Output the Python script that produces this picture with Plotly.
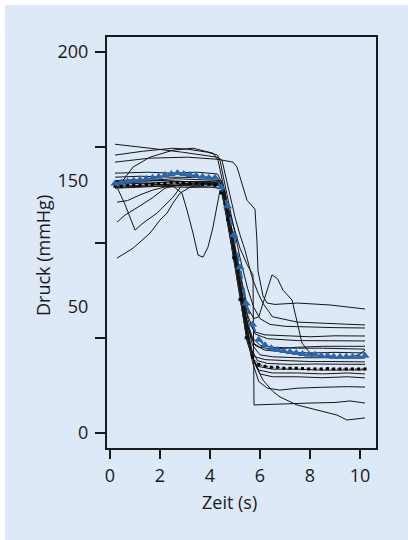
import plotly.graph_objects as go

# ---- data (time in s, pressure in axis units of the chart) ----
t01 = [0.2, 1.0, 1.6, 2.9, 3.6, 4.28, 4.48, 4.75, 5.0, 5.2, 5.4, 5.68, 5.92, 6.12, 6.5, 7.5, 8.5, 9.5, 10.2]
p01 = [151.6, 150.6, 149.5, 147.4, 145.9, 144.8, 143.2, 128, 113.3, 104, 96, 81.8, 73.5, 68, 61, 58.2, 57.5, 57, 56.7]

t02 = [0.2, 1.3, 2.5, 3.1, 3.9, 4.3, 4.4, 4.6, 4.9, 5.2, 5.5, 5.75, 6.0, 6.4, 7.0, 8.0, 9.0, 10.2]
p02 = [145.9, 147.9, 149.5, 149, 147.4, 145.9, 143, 130, 110, 92, 76, 66, 60, 57, 56, 55.5, 55.3, 55.1]

t03 = [0.2, 1.6, 3.1, 4.3, 4.92, 5.08, 5.48, 5.8, 5.88, 5.92, 6.12, 6.28, 6.6, 7.5, 8.8, 9.6, 10.2]
p03 = [142.2, 144.3, 144.8, 143.7, 142.2, 139.6, 122.2, 117.5, 100, 85, 72, 68.2, 67.5, 68.2, 67.2, 66, 65.1]

t04 = [0.2, 1.5, 2.5, 3.5, 4.3, 4.45, 4.7, 5.0, 5.3, 5.55, 5.8, 6.2, 7.0, 8.0, 9.0, 10.2]
p04 = [136.4, 136.9, 136.4, 136.9, 136, 132, 114, 92, 72, 58, 53, 51.5, 51, 50.5, 51, 50.9]

t05 = [0.32, 0.92, 1.6, 2.52, 3.32, 4.12, 4.32, 4.6, 4.9, 5.2, 5.5, 5.8, 6.3, 7.5, 8.5, 10.2]
p05 = [129.1, 139.6, 144.8, 148.5, 149.5, 146.9, 143.2, 126, 104, 82, 62, 52, 49.5, 48.5, 48.3, 48.3]

t06 = [0.28, 0.6, 1.0, 1.32, 1.88, 2.52, 2.88, 3.5, 4.3, 4.45, 4.7, 5.0, 5.3, 5.55, 5.8, 6.2, 7.0, 8.0, 9.0, 10.2]
p06 = [129.1, 120, 106.5, 110.2, 115.4, 123.8, 130.1, 131, 131.5, 128, 110, 88, 64, 46, 40, 38.5, 38, 37.5, 37.5, 37.3]

t07 = [0.28, 0.92, 1.6, 2.0, 2.28, 2.52, 2.8, 3.2, 3.8, 4.35, 4.5, 4.8, 5.1, 5.4, 5.65, 5.9, 6.5, 7.5, 8.5, 9.5, 10.2]
p07 = [91.8, 97, 104.9, 111.8, 115.4, 120.7, 125.9, 129, 130.5, 131, 127, 104, 80, 56, 40, 35, 33.5, 33.5, 33, 33.2, 33.1]

t08 = [0.28, 0.6, 1.12, 1.68, 2.2, 3.0, 3.8, 4.4, 4.55, 4.85, 5.15, 5.45, 5.7, 6.0, 6.5, 7.5, 8.5, 9.5, 10.2]
p08 = [110.7, 114.4, 118.6, 123.3, 128.5, 131, 131.5, 132, 127, 105, 82, 60, 46, 41, 40, 39.5, 39.5, 39.2, 39.3]

t09 = [0.28, 0.7, 1.2, 1.7, 2.3, 3.0, 3.7, 4.4, 4.55, 4.85, 5.15, 5.45, 5.7, 5.95, 6.5, 7.5, 8.5, 9.5, 10.2]
p09 = [121.2, 122, 125, 127.5, 129.5, 130.5, 131, 130.5, 126, 104, 80, 55, 40, 33, 31.5, 31.5, 31, 31.5, 31]

t10 = [0.2, 0.8, 1.6, 2.48, 2.88, 3.08, 3.32, 3.52, 3.72, 3.92, 4.12, 4.28, 4.4, 4.55, 4.85, 5.15, 5.45, 5.7, 6.0, 6.5, 7.5, 8.5, 9.5, 10.2]
p10 = [130.5, 131.5, 131, 130, 125.9, 117, 104.9, 93.4, 92.3, 97.6, 108.1, 118.6, 127.5, 124, 102, 80, 60, 50, 46, 45, 44.5, 44.5, 44, 44]

t11 = [0.2, 1.0, 2.0, 3.0, 4.0, 4.45, 4.6, 4.9, 5.2, 5.5, 5.75, 5.95, 6.2, 6.48, 6.7, 6.92, 7.28, 7.52, 7.68, 8.0, 8.4, 9.0, 9.6, 9.95, 10.2]
p11 = [132.5, 133, 132.5, 132, 132, 131, 126, 105, 84, 66, 60, 61, 72, 83, 81, 75, 69.8, 55.6, 47.2, 42, 39.9, 39.5, 39.8, 41, 43.5]

t12 = [0.2, 1.3, 2.5, 3.7, 4.4, 4.6, 4.9, 5.2, 5.5, 5.72, 5.76, 6.3, 7.0, 8.0, 9.0, 9.6, 10.2]
p12 = [129, 129.5, 130, 129.5, 130, 124, 110, 97, 88, 83, 14.7, 15, 15.3, 15.7, 16, 16.8, 15.7]

t13 = [0.2, 1.2, 2.4, 3.6, 4.3, 4.45, 4.7, 5.0, 5.3, 5.55, 5.8, 6.2, 7.0, 8.0, 9.0, 10.2]
p13 = [134.3, 134.8, 134.3, 134.3, 134, 130, 113, 91, 70, 54, 46, 43.5, 42.5, 42, 42.3, 42]

t14 = [0.2, 1.0, 2.0, 3.0, 3.8, 4.4, 4.55, 4.8, 5.1, 5.4, 5.65, 5.9, 6.3, 7.2, 8.2, 9.2, 10.2]
p14 = [130.5, 131, 131.5, 131, 130.5, 130.5, 126, 108, 84, 60, 44, 38, 36.5, 36, 36.2, 36, 36]

t15 = [0.2, 1.1, 2.1, 3.1, 4.0, 4.42, 4.57, 4.85, 5.15, 5.45, 5.7, 5.95, 6.3, 6.8, 7.5, 8.5, 9.5, 10.2]
p15 = [129.5, 130, 130.5, 130, 130.5, 130, 125, 103, 79, 55, 37, 27, 23.5, 22.5, 23.5, 24, 24.3, 24.1]

t16 = [0.2, 1.0, 2.0, 3.0, 4.0, 4.45, 4.6, 4.9, 5.2, 5.48, 5.8, 6.12, 6.5, 6.8, 7.48, 8.28, 9.08, 9.48, 10.2]
p16 = [131.5, 132, 132.5, 132, 131.5, 131, 125, 100, 72, 48, 36, 27.8, 22, 18.9, 14.7, 12.1, 9.4, 6.8, 7.9]

t17 = [0.2, 1.4, 2.6, 3.8, 4.45, 4.6, 4.9, 5.2, 5.5, 5.75, 6.0, 6.5, 7.5, 8.5, 9.5, 10.2]
p17 = [132, 132.5, 133.5, 133, 132.5, 127, 105, 80, 55, 38, 31, 29.5, 29.5, 29, 29.5, 28.9]

t18 = [0.2, 1.0, 2.0, 3.0, 4.0, 4.45, 4.6, 4.9, 5.2, 5.5, 5.75, 6.0, 6.5, 7.5, 8.5, 9.5, 10.2]
p18 = [128.5, 129, 129.5, 129, 129, 128.5, 123, 100, 76, 56, 47, 45, 44, 45, 45.5, 45.5, 45.5]

mean_t = [0.2, 0.45, 0.7, 0.95, 1.2, 1.45, 1.7, 1.95, 2.2, 2.45, 2.7, 2.95, 3.2, 3.45, 3.7, 3.95, 4.2,
          4.45, 4.7, 4.95, 5.2, 5.45, 5.7, 5.95, 6.2, 6.45, 6.7, 6.95, 7.2, 7.45, 7.7, 7.95, 8.2,
          8.45, 8.7, 8.95, 9.2, 9.45, 9.7, 9.95, 10.2]
mean_blue = [131, 131.5, 132, 132.5, 133, 133.5, 134, 134.5, 135.5, 136, 136.5, 136, 135.5, 135, 134.5, 134, 134,
             129, 119, 104, 87, 68, 57, 49, 46, 44.5, 43.5, 43, 42.5, 42, 41.5, 41, 41,
             40.5, 40.5, 40, 40, 40, 40, 40, 40.5]
mean_black = [129.5, 129.5, 130, 130, 130, 130.5, 130.5, 131, 131, 131.5, 131.5, 131.5, 131, 131, 130.5, 130.5, 130,
              126, 112, 92, 70, 50, 40, 36, 35, 34.5, 34.5, 34, 34, 34, 33.8, 33.6, 33.6,
              33.6, 33.8, 33.6, 33.6, 33.6, 33.6, 33.6, 33.6]

x_ticks = [0, 2, 4, 6, 8, 10]
y_tick_marks = [0, 50, 100, 150, 200]
y_label_pos = [0, 66.1, 132.7, 200]
y_label_text = ["0", "50", "150", "200"]

subjects = [(t01, p01), (t02, p02), (t03, p03), (t04, p04), (t05, p05), (t06, p06),
            (t07, p07), (t08, p08), (t09, p09), (t10, p10), (t11, p11), (t12, p12),
            (t13, p13), (t14, p14), (t15, p15), (t16, p16), (t17, p17), (t18, p18)]

BG = "#dde9f6"
FONT = "Open Sans"
INK = "#1a1a1a"

fig = go.Figure()
for t, p in subjects:
    fig.add_trace(go.Scatter(x=t, y=p, mode="lines",
                             line=dict(color="#151515", width=1), hoverinfo="skip"))

fig.add_trace(go.Scatter(x=mean_t, y=mean_black, mode="lines+markers",
                         line=dict(color="#333333", width=1, dash="dot"),
                         marker=dict(symbol="square", size=3, color="black")))
fig.add_trace(go.Scatter(x=mean_t, y=mean_blue, mode="lines+markers",
                         line=dict(color="#2a67b3", width=2, dash="dash"),
                         marker=dict(symbol="triangle-up", size=8, color="#2a67b3")))
# invisible trace to activate label axis
fig.add_trace(go.Scatter(x=[None], y=[None], yaxis="y2", showlegend=False))

axis_common = dict(showgrid=False, zeroline=False, showline=True, mirror=True,
                   linecolor=INK, linewidth=1.5, ticks="outside", tickcolor=INK,
                   tickwidth=1.5, tickfont=dict(family=FONT, size=18, color=INK))

W, H = 408, 540
ML, MR, MT, MB = 107, 32, 37, 92
PW, PH = W - ML - MR, H - MT - MB


def px_x(v):
    return (v - ML) / PW


def px_y(v):
    return (H - MB - v) / PH


fig.update_layout(
    width=W, height=H,
    margin=dict(l=ML, r=MR, t=MT, b=MB),
    paper_bgcolor=BG, plot_bgcolor=BG,
    showlegend=False,
    xaxis=dict(range=[-0.12, 10.64], tickvals=x_ticks, ticklen=9,
               ticklabelstandoff=2, **axis_common),
    yaxis=dict(range=[-7.9, 207.9], tickvals=y_tick_marks, ticklen=10,
               showticklabels=False, **axis_common),
    yaxis2=dict(range=[-7.9, 207.9], overlaying="y", side="left",
                tickvals=y_label_pos, ticktext=y_label_text,
                showgrid=False, zeroline=False, showline=False,
                ticks="outside", ticklen=10, tickcolor="rgba(0,0,0,0)",
                ticklabelstandoff=4,
                tickfont=dict(family=FONT, size=18, color=INK)),
    shapes=[
        dict(type="rect", xref="paper", yref="paper", layer="below",
             x0=px_x(0), x1=px_x(W), y0=px_y(5), y1=px_y(0),
             fillcolor="white", line=dict(width=0)),
        dict(type="rect", xref="paper", yref="paper", layer="below",
             x0=px_x(0), x1=px_x(5), y0=px_y(H), y1=px_y(0),
             fillcolor="white", line=dict(width=0)),
    ],
    annotations=[
        dict(text="Zeit (s)", xref="paper", yref="paper", x=px_x(229), y=px_y(502),
             xanchor="center", yanchor="middle", showarrow=False,
             font=dict(family=FONT, size=18, color=INK)),
        dict(text="Druck (mmHg)", xref="paper", yref="paper", x=px_x(43), y=px_y(256),
             xanchor="center", yanchor="middle", showarrow=False, textangle=-90,
             font=dict(family=FONT, size=18, color=INK)),
    ],
)

fig.write_html("out.html", config={"displayModeBar": False},
               post_script=("document.body.style.margin='0';"
                            "document.body.style.overflow='hidden';"
                            "document.body.style.background='" + BG + "';"
                            "document.documentElement.style.background='" + BG + "';"))
